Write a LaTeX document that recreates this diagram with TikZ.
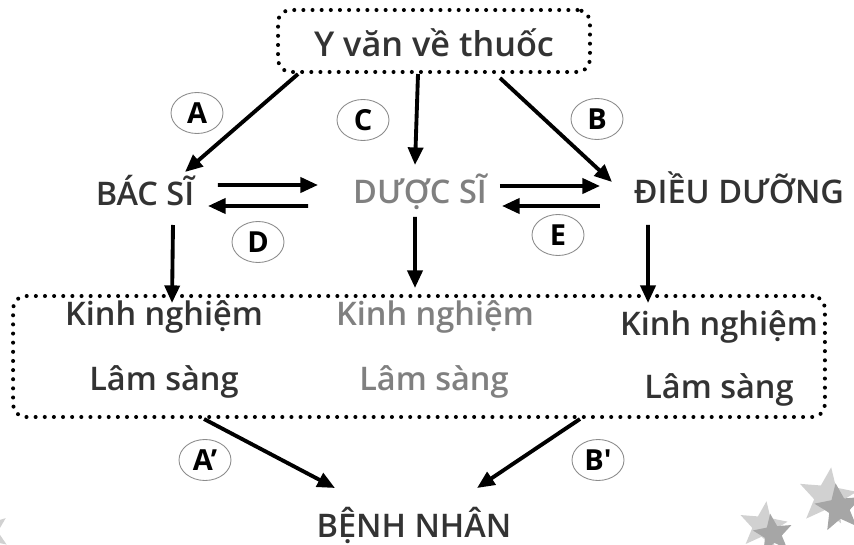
\documentclass[tikz,border=0pt]{standalone}
\usepackage{fontspec}
\setmainfont{Open Sans}[UprightFont={* Semibold}, BoldFont={* Bold}]
\usetikzlibrary{arrows.meta,shapes.geometric}

\tikzset{
  dotbox/.style={draw, line width=2.3pt, dash pattern=on 0pt off 5.2pt, line cap=round, rounded corners=0.25cm},
  arr/.style={line width=2.2pt, -{Triangle[length=10pt,width=8.5pt]}},
  tag/.style={ellipse, draw=black!45, line width=0.5pt, minimum width=1.04cm, minimum height=0.82cm, inner sep=0pt, font=\fontsize{16.5}{16.5}\selectfont\bfseries},
  role/.style={anchor=base, inner sep=0pt, font=\fontsize{18.5}{22}\selectfont, text=black!80},
  exp/.style={anchor=base, inner sep=0pt, font=\fontsize{18.5}{22}\selectfont, text=black!80},
  faded/.style={text=black!50},
  starlite/.style={star, star points=5, star point ratio=2.3, inner sep=0pt, fill=black!18},
  stardark/.style={star, star points=5, star point ratio=2.3, inner sep=0pt, fill=black!35},
}

\begin{document}
\begin{tikzpicture}[x=0.02cm,y=-0.02cm]
\useasboundingbox (0,0) rectangle (854,544);
\clip (0,0) rectangle (854,544);

% boxes
\node[dotbox, minimum width=6.24cm, minimum height=1.24cm] (box) at (434,41) {};
\node[dotbox, minimum width=16.24cm, minimum height=2.42cm] (exp) at (419,356.5) {};

\node[anchor=base, inner sep=0pt, font=\fontsize{19.5}{24}\selectfont, text=black!80] (yvan) at (434,57) {Y văn về thuốc};

% roles
\node[role] (bs) at (145,205) {BÁC SĨ};
\node[role, faded] (ds) at (420,203) {DƯỢC SĨ};
\node[role] (dd) at (739,203) {ĐIỀU DƯỠNG};
\node[role] (bn) at (414,537) {BỆNH NHÂN};

% experience
\foreach \n/\x/\y/\s in {1/164/325/, 2/435/325/faded, 3/719/335/}{
	\node[exp, \s] (kn\n) at (\x,\y) {Kinh nghiệm};
}
\foreach \n/\x/\y/\s in {1/164/390/, 2/434/390/faded, 3/719/398/}{
	\node[exp, \s] (ls\n) at (\x,\y) {Lâm sàng};
}

% labels
\foreach \n/\t/\x/\y in {a/A/197/113, c/C/363/120, b/B/597/119, d/D/258/242, e/E/558/235, f/A’/205/460, g/B′/598/460}{
	\node[tag] (t\n) at (\x,\y) {\t};
}

% arrows
\draw[arr] ([xshift=-2.72cm]box.south) -- ([xshift=0.8cm,yshift=0.66cm]bs.base);
\draw[arr] ([xshift=-0.32cm]box.south) -- ([xshift=-0.1cm,yshift=0.76cm]ds.base);
\draw[arr] ([xshift=1.32cm,yshift=-0.08cm]box.south) -- ([xshift=-2.54cm,yshift=0.42cm]dd.base);
\draw[arr] ([xshift=1.46cm,yshift=0.4cm]bs.base) -- ([xshift=-2.04cm,yshift=0.36cm]ds.base);
\draw[arr] ([xshift=-2.24cm,yshift=-0.06cm]ds.base) -- ([xshift=1.26cm,yshift=-0.02cm]bs.base);
\draw[arr] ([xshift=1.6cm,yshift=0.34cm]ds.base) -- ([xshift=-2.78cm,yshift=0.34cm]dd.base);
\draw[arr] ([xshift=-2.78cm,yshift=-0.06cm]dd.base) -- ([xshift=1.64cm,yshift=-0.06cm]ds.base);
\draw[arr] ([xshift=0.56cm,yshift=-0.4cm]bs.base) -- ([xshift=0.16cm,yshift=0.44cm]kn1.base);
\draw[arr] ([xshift=-0.1cm,yshift=-0.28cm]ds.base) -- ([xshift=-0.4cm,yshift=0.74cm]kn2.base);
\draw[arr] ([xshift=-1.82cm,yshift=-0.44cm]dd.base) -- ([xshift=-1.42cm,yshift=0.64cm]kn3.base);
\draw[arr] ([xshift=-4.3cm]exp.south) -- ([xshift=-1.58cm,yshift=0.98cm]bn.base);
\draw[arr] ([xshift=3.22cm]exp.south) -- ([xshift=1.26cm,yshift=0.98cm]bn.base);

% stars
\node[starlite, minimum size=1.2cm, rotate=-8] (s1) at (827,497) {};
\node[stardark, minimum size=1.0cm, rotate=8] (s2) at (839,508) {};
\node[starlite, minimum size=1.0cm, rotate=-8] (s3) at (763,526) {};
\node[stardark, minimum size=0.82cm, rotate=8] (s4) at (773,534) {};
\node[starlite, minimum size=0.9cm, rotate=20] (s5) at (-12,532) {};
\end{tikzpicture}
\end{document}
